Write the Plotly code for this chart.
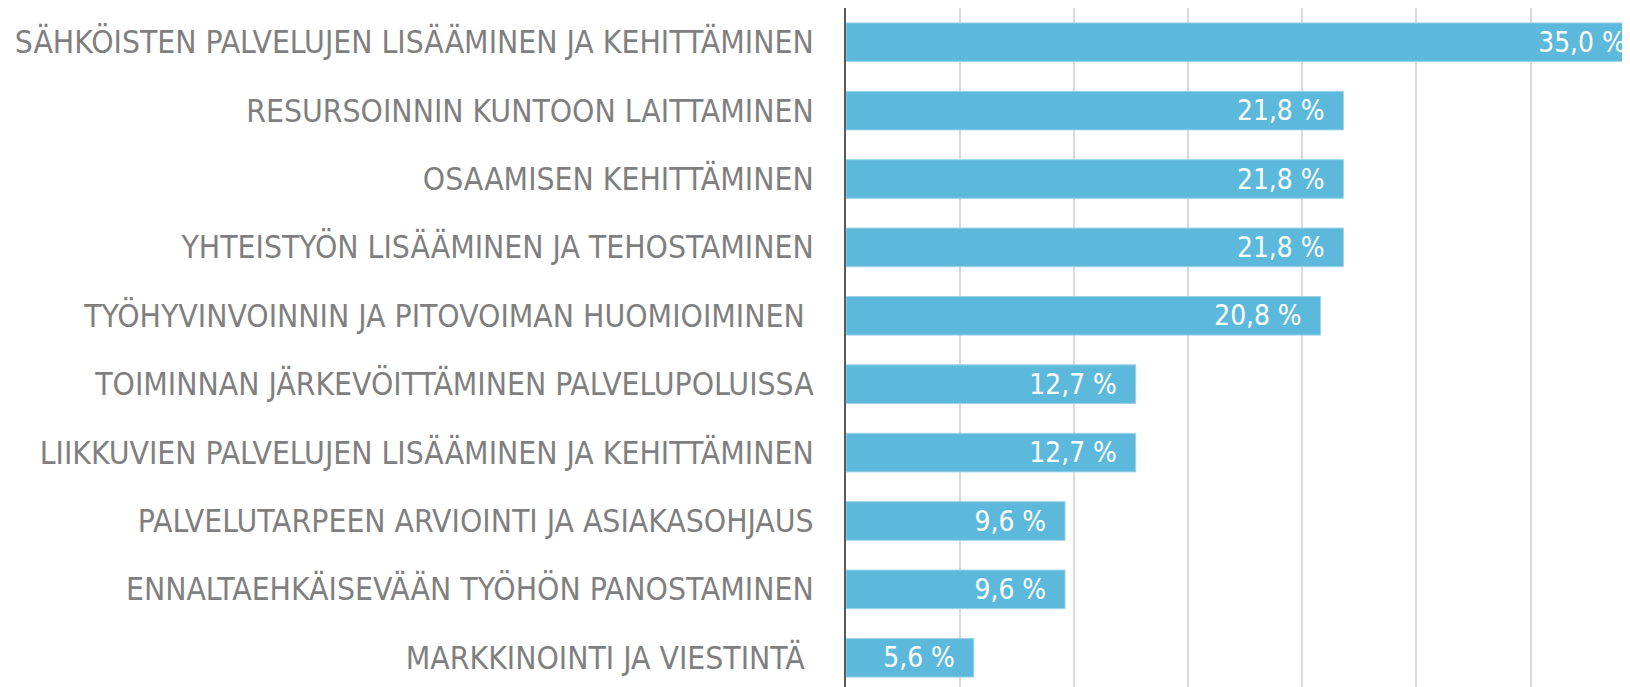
import plotly.graph_objects as go

categories = [
    "SÄHKÖISTEN PALVELUJEN LISÄÄMINEN JA KEHITTÄMINEN",
    "RESURSOINNIN KUNTOON LAITTAMINEN",
    "OSAAMISEN KEHITTÄMINEN",
    "YHTEISTYÖN LISÄÄMINEN JA TEHOSTAMINEN",
    "TYÖHYVINVOINNIN JA PITOVOIMAN HUOMIOIMINEN\u00a0",
    "TOIMINNAN JÄRKEVÖITTÄMINEN PALVELUPOLUISSA",
    "LIIKKUVIEN PALVELUJEN LISÄÄMINEN JA KEHITTÄMINEN",
    "PALVELUTARPEEN ARVIOINTI JA ASIAKASOHJAUS",
    "ENNALTAEHKÄISEVÄÄN TYÖHÖN PANOSTAMINEN",
    "MARKKINOINTI JA VIESTINTÄ\u00a0",
]
values = [35.0, 21.8, 21.8, 21.8, 20.8, 12.7, 12.7, 9.6, 9.6, 5.6]
value_labels = [f"{v:.1f} %".replace(".", ",") + "\u00a0\u00a0" for v in values]

FONT = "DejaVu Sans Condensed, Liberation Sans Narrow, Arial Narrow, sans-serif"

fig = go.Figure(
    go.Bar(
        x=values,
        y=list(range(len(categories))),
        orientation="h",
        width=0.565,
        marker=dict(color="#5DB9DB", line=dict(color="#9fd3ea", width=1)),
        text=value_labels,
        textposition="inside",
        insidetextanchor="end",
        textfont=dict(family=FONT, size=29, color="white"),
        cliponaxis=True,
    )
)

fig.update_layout(
    width=1630,
    height=687,
    margin=dict(l=838, r=0, t=0, b=0, autoexpand=False),
    paper_bgcolor="white",
    plot_bgcolor="white",
    showlegend=False,
    font=dict(family=FONT),
)
fig.update_xaxes(
    range=[0, 34.71],
    dtick=5,
    showgrid=True,
    gridcolor="#d9d9d9",
    gridwidth=1.5,
    showticklabels=False,
    zeroline=False,
    showline=False,
    automargin=False,
    fixedrange=True,
)
fig.update_yaxes(
    tickvals=list(range(len(categories))),
    ticktext=categories,
    range=[9.544, -0.5],
    showgrid=False,
    zeroline=False,
    showline=True,
    linecolor="#595959",
    linewidth=2,
    ticks="",
    ticklabelstandoff=24,
    tickfont=dict(family=FONT, size=31.6, color="#7f7f7f"),
    automargin=False,
    fixedrange=True,
)

fig.write_html("out.html")
